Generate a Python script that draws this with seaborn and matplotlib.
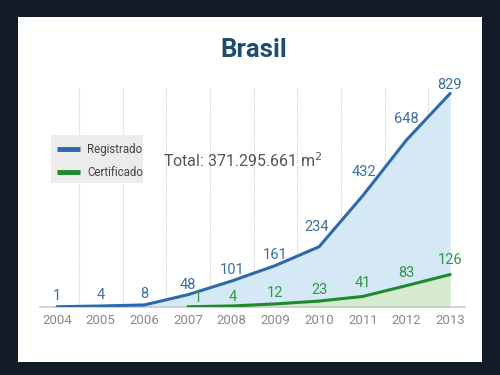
import matplotlib
matplotlib.use("Agg")
import matplotlib.pyplot as plt
import seaborn as sns
import pandas as pd
from matplotlib.patches import Rectangle
from matplotlib.lines import Line2D

# ---- data ----
years = [2004, 2005, 2006, 2007, 2008, 2009, 2010, 2011, 2012, 2013]
registrado = [1, 4, 8, 48, 101, 161, 234, 432, 648, 829]
cert_years = [2007, 2008, 2009, 2010, 2011, 2012, 2013]
certificado = [1, 4, 12, 23, 41, 83, 126]
series_names = ["Registrado", "Certificado"]
title_text = "Brasil"
total_text = "Total: 371.295.661 m$^2$"

sns.set_theme(style="white")
FONT = ["Roboto", "DejaVu Sans"]
plt.rcParams["font.family"] = FONT

BLUE = "#2d6aad"
BLUE_TXT = "#3b6fa6"
BLUE_FILL = "#d5e8f6"
GREEN = "#1d8a2c"
GREEN_TXT = "#2e9a45"
GREEN_FILL = "#d6ead0"

W, H = 500, 375
fig = plt.figure(figsize=(5, 3.75), dpi=100, facecolor="#111a27")
# white panel
fig.patches.append(Rectangle((18 / W, 1 - 362 / H), (482 - 18) / W, (362 - 17) / H,
                             transform=fig.transFigure, facecolor="white",
                             edgecolor="none", zorder=-5))

ax = fig.add_axes([40 / W, 1 - 307 / H, 425 / W, (307 - 88) / H])
ax.set_facecolor("none")
ax.set_zorder(1)

df_r = pd.DataFrame({"Ano": years, "Valor": registrado})
df_c = pd.DataFrame({"Ano": cert_years, "Valor": certificado})

ax.fill_between(df_r["Ano"], 0, df_r["Valor"], color=BLUE_FILL, lw=0, zorder=1)
ax.fill_between(df_c["Ano"], 0, df_c["Valor"], color=GREEN_FILL, lw=0, zorder=2)
sns.lineplot(data=df_r, x="Ano", y="Valor", color=BLUE, lw=2.2, ax=ax, zorder=4,
             solid_capstyle="round", solid_joinstyle="round")
sns.lineplot(data=df_c, x="Ano", y="Valor", color=GREEN, lw=2.2, ax=ax, zorder=4,
             solid_capstyle="round", solid_joinstyle="round")

# vertical dotted gridlines between years
for i in range(len(years) - 1):
    ax.axvline((years[i] + years[i + 1]) / 2, color="#cfcfcf", lw=0.8,
               ls=(0, (1, 1)), zorder=0.5)

ax.set_xlim(2003.61, 2013.34)
ax.set_ylim(0, 850)
ax.set_xticks(years)
ax.set_xticklabels([str(y) for y in years], color="#8a8a8a", fontsize=9.5)
ax.set_yticks([])
ax.set_xlabel("")
ax.set_ylabel("")
for s in ["top", "right", "left"]:
    ax.spines[s].set_visible(False)
ax.spines["bottom"].set_color("#cccccc")
ax.spines["bottom"].set_linewidth(1.2)
ax.tick_params(axis="x", length=0, pad=5)

# value labels (offsets in pixels)
blue_dy = [11, 11, 11, 10, 11, 11, 20, 24, 21, 8]
blue_dx = [0, 0, 0, 0, 0, 0, -2, 1, 0, -1]
for x, v, dy, dx in zip(years, registrado, blue_dy, blue_dx):
    ax.annotate(str(v), (x, v), xytext=(dx * 0.72, dy * 0.72), textcoords="offset points",
                ha="center", va="center", color=BLUE_TXT, fontsize=10.5, zorder=5)
green_dy = [9, 9, 11, 11, 13, 13, 15]
green_dx = [10, 1, 0, 0, 0, 0, 0]
for x, v, dy, dx in zip(cert_years, certificado, green_dy, green_dx):
    ax.annotate(str(v), (x, v), xytext=(dx * 0.72, dy * 0.72), textcoords="offset points",
                ha="center", va="center", color=GREEN_TXT, fontsize=10.5, zorder=5)

# title
fig.text(254 / W, 1 - 50 / H, title_text, ha="center", va="center",
         fontsize=18.5, fontweight="bold", color="#1e4b6e")

# legend box
fig.patches.append(Rectangle((51 / W, 1 - 183 / H), (143 - 51) / W, (183 - 135) / H,
                             transform=fig.transFigure, facecolor="#ececec",
                             edgecolor="none", zorder=3))
for yy, col, name in [(149, BLUE, series_names[0]), (172, GREEN, series_names[1])]:
    fig.lines.append(Line2D([57 / W, 80 / W], [1 - yy / H, 1 - yy / H],
                            transform=fig.transFigure, color=col, lw=3.5, zorder=4,
                            solid_capstyle="butt"))
    fig.text(87 / W, 1 - yy / H, name, ha="left", va="center", fontsize=8.3,
             color="#444444", zorder=5)

fig.text(163 / W, 1 - 161 / H, total_text, ha="left", va="center",
         fontsize=11.5, color="#555555")

fig.savefig("out.png", dpi=100, facecolor=fig.get_facecolor())
